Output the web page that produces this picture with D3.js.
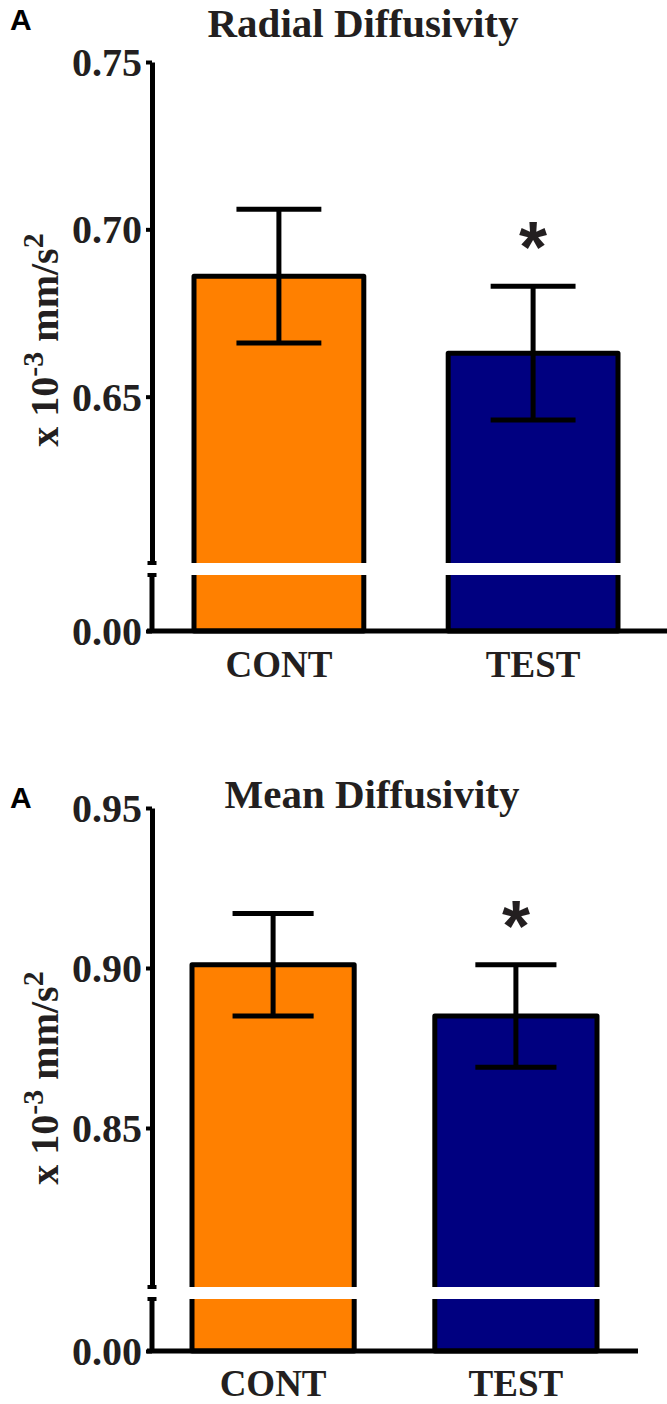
<!DOCTYPE html>
<html>
<head>
<meta charset="utf-8">
<script src="https://cdn.jsdelivr.net/npm/d3@7"></script>
<style>
  html, body { margin: 0; padding: 0; background: #fff; }
  svg { display: block; }
</style>
</head>
<body>
<svg id="chart" width="667" height="1404"></svg>
<script>
// ---------- data ----------
const categories = ["CONT", "TEST"];
const barColors = ["#FF8000", "#000080"];
const significant = [false, true];

const radialMeans = [0.686, 0.663];
const radialErrors = [0.020, 0.020];
const radialTicks = [0.65, 0.70, 0.75];
const radialTickLabels = ["0.65", "0.70", "0.75"];

const meanDiffMeans = [0.901, 0.885];
const meanDiffErrors = [0.016, 0.016];
const meanDiffTicks = [0.85, 0.90, 0.95];
const meanDiffTickLabels = ["0.85", "0.90", "0.95"];

const zeroTick = [0];
const zeroTickLabel = ["0.00"];

const titles = ["Radial Diffusivity", "Mean Diffusivity"];
const panelLetter = "A";

// ---------- layout ----------
const TEXT = "#231f20";
const SERIF = "'Liberation Serif', 'Times New Roman', serif";
const SANS = "'Liberation Sans', Arial, sans-serif";

const panels = [
  {
    title: titles[0], means: radialMeans, errors: radialErrors,
    ticks: radialTicks, tickLabels: radialTickLabels,
    domain: [0.60, 0.75], top: 62, breakY: 564, baseY: 631,
    xRange: [194, 618], axisX: 152, axisEnd: 667,
    letterY: 30, titleX: 363, titleY: 37, yTitleY: 340, catY: 677
  },
  {
    title: titles[1], means: meanDiffMeans, errors: meanDiffErrors,
    ticks: meanDiffTicks, tickLabels: meanDiffTickLabels,
    domain: [0.80, 0.95], top: 808, breakY: 1288, baseY: 1351,
    xRange: [192, 597], axisX: 152, axisEnd: 638,
    letterY: 808, titleX: 372, titleY: 808, yTitleY: 1078, catY: 1396
  }
];

const svg = d3.select("#chart");

panels.forEach(p => {
  const g = svg.append("g");

  const y = d3.scaleLinear().domain(p.domain).range([p.breakY, p.top]);
  const yLow = d3.scaleLinear().domain([0, 0.01]).range([p.baseY, p.baseY - 10]);
  const x = d3.scaleBand().domain(categories).range(p.xRange)
    .paddingInner(0.332).paddingOuter(0);

  // bars
  const rows = categories.map((c, i) => ({
    cat: c, mean: p.means[i], err: p.errors[i], color: barColors[i], sig: significant[i]
  }));

  g.selectAll("rect.bar").data(rows).join("rect")
    .attr("class", "bar")
    .attr("x", d => x(d.cat))
    .attr("width", x.bandwidth())
    .attr("y", d => y(d.mean))
    .attr("height", d => p.baseY - y(d.mean))
    .attr("fill", d => d.color)
    .attr("stroke", "#000")
    .attr("stroke-width", 5)
    .attr("stroke-linejoin", "round");

  // error bars
  const capW = x.bandwidth() / 2;
  const eb = g.selectAll("g.err").data(rows).join("g").attr("class", "err");
  eb.append("line")
    .attr("x1", d => x(d.cat) + x.bandwidth() / 2)
    .attr("x2", d => x(d.cat) + x.bandwidth() / 2)
    .attr("y1", d => y(d.mean + d.err))
    .attr("y2", d => y(d.mean - d.err))
    .attr("stroke", "#000").attr("stroke-width", 5);
  ["+", "-"].forEach(s => {
    eb.append("line")
      .attr("x1", d => x(d.cat) + x.bandwidth() / 2 - capW / 2)
      .attr("x2", d => x(d.cat) + x.bandwidth() / 2 + capW / 2)
      .attr("y1", d => y(s === "+" ? d.mean + d.err : d.mean - d.err))
      .attr("y2", d => y(s === "+" ? d.mean + d.err : d.mean - d.err))
      .attr("stroke", "#000").attr("stroke-width", 5);
  });

  // break stripe through bars
  g.selectAll("rect.stripe").data(rows).join("rect")
    .attr("class", "stripe")
    .attr("x", d => x(d.cat) - 4)
    .attr("width", x.bandwidth() + 8)
    .attr("y", p.breakY - 1)
    .attr("height", 12)
    .attr("fill", "#fff");

  // asterisks
  rows.filter(d => d.sig).forEach(d => {
    const cx = x(d.cat) + x.bandwidth() / 2;
    const cy = y(d.mean + d.err) - 39;
    const t = g.append("text").text("*")
      .attr("font-family", SANS).attr("font-weight", "bold")
      .attr("font-size", 72).attr("fill", TEXT)
      .attr("text-anchor", "middle").attr("x", cx).attr("y", cy);
    const bb = t.node().getBBox();
    t.attr("y", cy + (cy - (bb.y + bb.height / 2)));
  });

  // y axis (upper segment)
  const axU = g.append("g").attr("transform", `translate(${p.axisX},0)`)
    .call(d3.axisLeft(y).tickValues(p.ticks).tickFormat((d, i) => p.tickLabels[i])
      .tickSize(6).tickSizeOuter(0).tickPadding(4));
  const axL = g.append("g").attr("transform", `translate(${p.axisX},0)`)
    .call(d3.axisLeft(yLow).tickValues(zeroTick).tickFormat((d, i) => zeroTickLabel[i])
      .tickSize(6).tickSizeOuter(0).tickPadding(4));
  axL.select(".domain").remove();
  [axU, axL].forEach(ax => {
    ax.select(".domain").attr("stroke", "#000").attr("stroke-width", 5);
    ax.selectAll(".tick line").attr("stroke", "#000").attr("stroke-width", 4);
    ax.selectAll(".tick text")
      .attr("font-family", SERIF).attr("font-weight", "bold")
      .attr("font-size", 40).attr("fill", TEXT).attr("dy", "0.34em");
  });

  // break caps and lower segment
  g.append("rect").attr("x", p.axisX - 4.5).attr("y", p.breakY - 3)
    .attr("width", 9).attr("height", 4).attr("fill", "#000");
  g.append("line").attr("x1", p.axisX).attr("x2", p.axisX)
    .attr("y1", p.breakY + 9).attr("y2", p.baseY)
    .attr("stroke", "#000").attr("stroke-width", 5);
  g.append("rect").attr("x", p.axisX - 4.5).attr("y", p.breakY + 9)
    .attr("width", 9).attr("height", 4).attr("fill", "#000");

  // x axis
  g.append("line").attr("x1", p.axisX - 5).attr("x2", p.axisEnd)
    .attr("y1", p.baseY).attr("y2", p.baseY)
    .attr("stroke", "#000").attr("stroke-width", 5);
  const axX = g.append("g").attr("transform", `translate(0,${p.baseY})`)
    .call(d3.axisBottom(x).tickSize(0));
  axX.select(".domain").remove();
  axX.selectAll(".tick text")
    .attr("font-family", SERIF).attr("font-weight", "bold")
    .attr("font-size", 37).attr("fill", TEXT)
    .attr("y", p.catY - p.baseY).attr("dy", 0);

  // titles
  g.append("text").text(panelLetter)
    .attr("x", 10).attr("y", p.letterY)
    .attr("font-family", SANS).attr("font-weight", "bold")
    .attr("font-size", 30).attr("fill", "#000");
  g.append("text").text(p.title)
    .attr("x", p.titleX).attr("y", p.titleY).attr("text-anchor", "middle")
    .attr("font-family", SERIF).attr("font-weight", "bold")
    .attr("font-size", 41).attr("fill", TEXT);

  // y-axis title
  const yt = g.append("text")
    .attr("transform", `translate(58,${p.yTitleY}) rotate(-90)`)
    .attr("text-anchor", "middle")
    .attr("font-family", SERIF).attr("font-weight", "bold")
    .attr("font-size", 40).attr("fill", TEXT);
  yt.append("tspan").text("x 10");
  yt.append("tspan").text("-3").attr("font-size", 30).attr("dy", -15);
  yt.append("tspan").text(" mm/s").attr("dy", 15);
  yt.append("tspan").text("2").attr("font-size", 30).attr("dy", -15);
});
</script>
</body>
</html>
